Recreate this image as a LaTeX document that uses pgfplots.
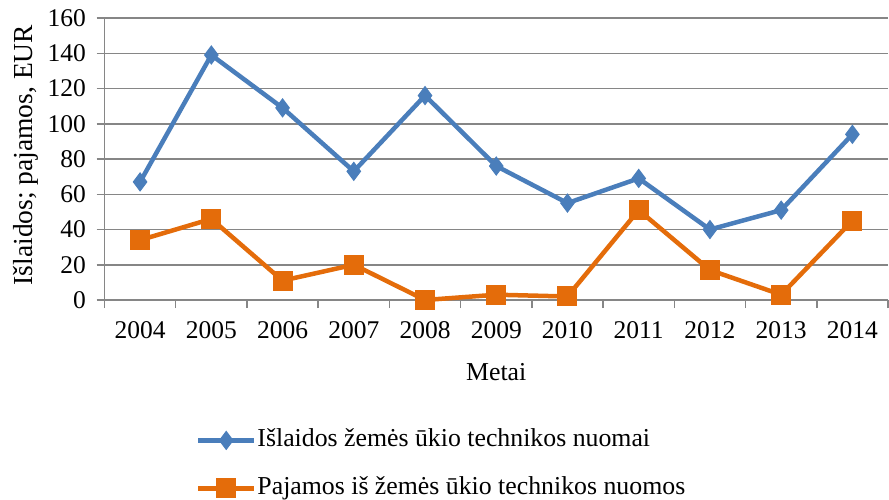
\documentclass[border=0pt]{standalone}
\usepackage{fontspec}
\setmainfont{Liberation Serif}
\usepackage{pgfplots}
\pgfplotsset{compat=1.18}
\definecolor{sblue}{HTML}{4A7EBB}
\definecolor{sorange}{HTML}{E46C0A}
\definecolor{gridgray}{HTML}{868686}
\newcommand{\fs}{\fontsize{25.5}{30}\selectfont}
\newcommand{\fl}{\fontsize{25.8}{31}\selectfont}
\newcommand{\fy}{\fontsize{27.5}{32}\selectfont}
\begin{document}
\begin{tikzpicture}
\useasboundingbox (0,0) rectangle (889pt,499pt);
\begin{axis}[
 at={(104.5pt,199pt)}, anchor=south west,
 scale only axis, width=783.5pt, height=282pt,
 xmin=-0.5, xmax=10.5, ymin=0, ymax=160,
 ytick={0,20,40,60,80,100,120,140,160},
 xtick={-0.5,0.5,1.5,2.5,3.5,4.5,5.5,6.5,7.5,8.5,9.5,10.5},
 x tick label as interval,
 xticklabels={2004,2005,2006,2007,2008,2009,2010,2011,2012,2013,2014},
 axis x line*=bottom, axis y line*=left,
 axis line style={gridgray, line width=1.5pt, -},
 ymajorgrids, grid style={gridgray, line width=1.5pt},
 tick align=outside, major tick length=8pt,
 tick style={gridgray, line width=1.5pt},
 /pgf/number format/assume math mode=true,
 tick label style={font=\fs, text=black},
 yticklabel style={xshift=-7pt},
 xticklabel style={yshift=-10pt},
 xlabel={Metai},
 xlabel style={font=\fl, at={(axis description cs:0.5,-0.2837)}, anchor=base},
 ylabel={Išlaidos; pajamos, EUR},
 ylabel style={font=\fy, at={(axis description cs:-0.0913,0.514)}, anchor=base, rotate=0},
 legend style={at={(axis description cs:0.1165,-0.583)}, anchor=west,
   draw=none, fill=none, inner sep=0pt, font=\fl, row sep=25pt,
   nodes={inner sep=0pt, text height=18pt, text depth=5pt}},
 legend cell align=left,
 legend image code/.code={\draw[mark repeat=2,mark phase=2,#1] plot coordinates {(0pt,0pt) (28pt,0pt) (56pt,0pt)};},
 legend style={/tikz/every odd column/.append style={column sep=1pt}},
 clip=false,
]
\addplot[sblue, line width=4.5pt, mark=diamond*, mark size=9pt, mark options={solid, line width=1pt, fill=sblue}]
 coordinates {(0,67) (1,139) (2,109) (3,73) (4,116) (5,76) (6,55) (7,69) (8,40) (9,51) (10,94)};
\addlegendentry{Išlaidos žemės ūkio technikos nuomai}
\addplot[sorange, line width=4.5pt, mark=square*, mark size=9.5pt, mark options={solid, line width=1pt, fill=sorange}]
 coordinates {(0,34) (1,46) (2,11) (3,20) (4,0) (5,3) (6,2) (7,51) (8,17) (9,3) (10,45)};
\addlegendentry{Pajamos iš žemės ūkio technikos nuomos}
\end{axis}
\end{tikzpicture}
\end{document}
